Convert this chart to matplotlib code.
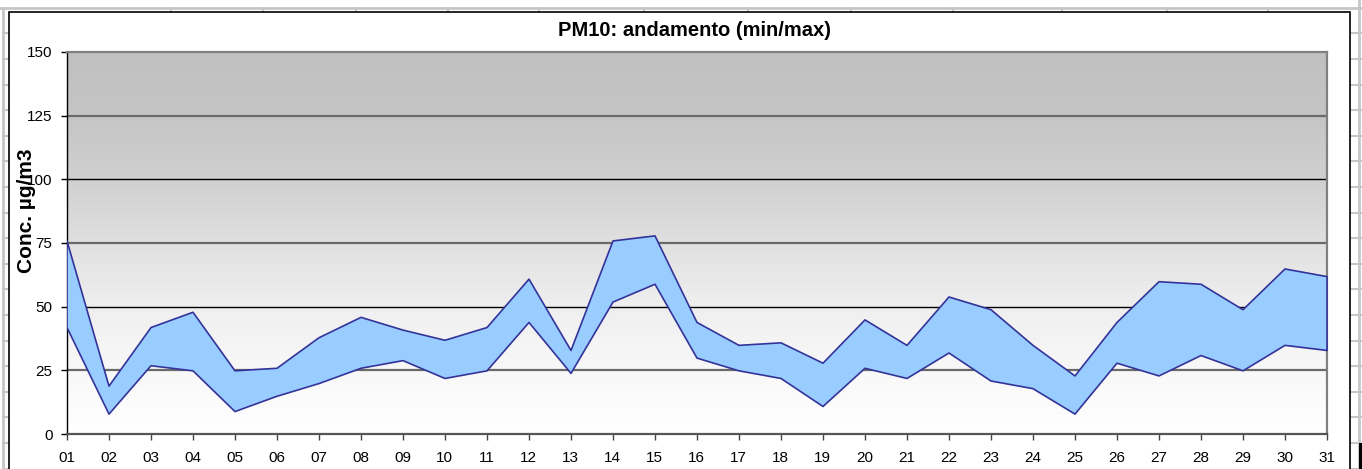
import numpy as np
import matplotlib
matplotlib.use("Agg")
import matplotlib.pyplot as plt
from matplotlib.colors import LinearSegmentedColormap
from matplotlib.patches import Rectangle

plt.rcParams['font.family'] = ['Liberation Sans', 'DejaVu Sans']

# ---- data ----
days = ['01', '02', '03', '04', '05', '06', '07', '08', '09', '10',
        '11', '12', '13', '14', '15', '16', '17', '18', '19', '20',
        '21', '22', '23', '24', '25', '26', '27', '28', '29', '30', '31']
pm10_max = [76, 19, 42, 48, 25, 26, 38, 46, 41, 37, 42, 61, 33, 76, 78, 44,
            35, 36, 28, 45, 35, 54, 49, 35, 23, 44, 60, 59, 49, 65, 62]
pm10_min = [42, 8, 27, 25, 9, 15, 20, 26, 29, 22, 25, 44, 24, 52, 59, 30,
            25, 22, 11, 26, 22, 32, 21, 18, 8, 28, 23, 31, 25, 35, 33]
y_ticks = [0, 25, 50, 75, 100, 125, 150]
title = 'PM10: andamento (min/max)'
ylabel = 'Conc. µg/m3'

W, H = 1362, 469
fig = plt.figure(figsize=(W / 100, H / 100), dpi=100)
fig.patch.set_facecolor('white')

# ---- spreadsheet background (pixel coords) ----
bg = fig.add_axes([0, 0, 1, 1], zorder=0)
bg.set_xlim(0, W)
bg.set_ylim(H, 0)
bg.axis('off')
grid_c = '#c6c6c6'
bg.plot([0, W], [8, 8], color=grid_c, lw=2)
bg.plot([3, 3], [8, H], color=grid_c, lw=2)
bg.plot([1359, 1359], [0, H], color=grid_c, lw=2)
for cx in [171, 263, 356, 448, 539, 644, 748, 851, 953, 1062, 1167, 1268]:
    bg.plot([cx, cx], [8, H], color=grid_c, lw=1.5)
for ry in np.arange(33.5, H, 25.6):
    bg.plot([3, W], [ry, ry], color=grid_c, lw=1.5)
# chart area
bg.add_patch(Rectangle((9, 12), 1341, 480, facecolor='white', edgecolor='black', lw=1.2, zorder=5))
bg.add_patch(Rectangle((1359, 443), 3, 30, facecolor='black', edgecolor='none', zorder=5))

# ---- plot ----
left, right = 66.5 / W, 1326.5 / W
bottom, top = 1 - 434 / H, 1 - 52 / H
ax = fig.add_axes([left, bottom, right - left, top - bottom], zorder=2)
x = np.arange(len(days))
ax.set_xlim(x[0], x[-1])
ax.set_ylim(0, 150)

# gradient background
cmap = LinearSegmentedColormap.from_list('g', [
    (0.0, '#ffffff'), (25 / 150, '#f8f8f8'), (50 / 150, '#efefef'),
    (75 / 150, '#e0e0e0'), (100 / 150, '#d0d0d0'), (125 / 150, '#c5c5c5'),
    (1.0, '#c0c0c0')])
grad = np.linspace(0, 1, 256).reshape(-1, 1)
ax.imshow(grad, aspect='auto', cmap=cmap, origin='lower',
          extent=(x[0], x[-1], 0, 150), zorder=0, interpolation='bilinear')

# gridlines
for v in y_ticks[1:-1]:
    if v % 50 == 0:
        ax.axhline(v, color='black', lw=1.0, zorder=1)
    else:
        ax.axhline(v, color='#6a6a6a', lw=1.6, zorder=1)

ax.fill_between(x, pm10_min, pm10_max, facecolor='#99ccff',
                edgecolor='#333399', lw=1.2, zorder=3)

ax.set_yticks(y_ticks)
ax.set_yticklabels([str(v) for v in y_ticks], fontsize=11)
ax.set_xticks(x)
ax.set_xticklabels(days, fontsize=11)
ax.tick_params(axis='y', direction='out', length=4, width=1, color='black', pad=6)
ax.tick_params(axis='x', direction='out', length=4, width=1, color='#444444', pad=8)

for s in ['top', 'right']:
    ax.spines[s].set_color('#808080')
    ax.spines[s].set_linewidth(1.6)
ax.spines['left'].set_color('black')
ax.spines['left'].set_linewidth(1.0)
ax.spines['bottom'].set_color('#555555')
ax.spines['bottom'].set_linewidth(1.6)

fig.text(694 / W, 1 - 31 / H, title, ha='center', va='center',
         fontsize=14.5, fontweight='bold')
fig.text(26 / W, 1 - 211 / H, ylabel, ha='center', va='center',
         rotation=90, fontsize=15, fontweight='bold', zorder=10)

fig.savefig('out.png', dpi=100)
